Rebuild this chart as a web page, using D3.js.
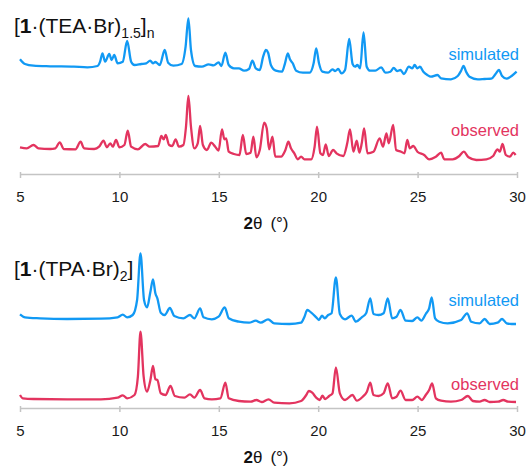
<!DOCTYPE html>
<html>
<head>
<meta charset="utf-8">
<script src="https://cdn.jsdelivr.net/npm/d3@7"></script>
<style>
  body { margin: 0; background: #fff; }
  svg { display: block; font-family: Helvetica, Arial, "Liberation Sans", sans-serif; }
  .axis path, .axis line { stroke: #c4c4c4; stroke-width: 1.5; }
  .axis text { fill: #1a1a1a; font-size: 15px; }
</style>
</head>
<body>
<svg id="chart" width="531" height="466"></svg>
<script>
"use strict";

//Tick values shared by both panels
var thetaTicks = [5, 10, 15, 20, 25, 30];

//[2theta, intensity], [1.(TEA.Br)1.5]n
var teaSimulated = [
  [5.00, 20.7], [5.25, 16.0], [5.68, 14.3], [6.52, 13.7], [7.71, 13.3], [8.39, 12.7], [8.90, 14.0],
  [9.03, 18.3], [9.15, 26.7], [9.28, 18.3], [9.49, 26.0], [9.61, 20.0], [9.74, 25.0], [9.91, 16.7],
  [10.17, 18.3], [10.39, 39.0], [10.59, 18.3], [10.76, 15.0], [11.10, 16.0], [11.35, 16.7], [11.55, 19.3],
  [11.69, 16.7], [11.81, 18.0], [12.03, 15.0], [12.28, 30.0], [12.45, 17.3], [12.71, 14.3], [13.13, 16.0],
  [13.33, 33.3], [13.47, 61.7], [13.60, 30.0], [13.81, 14.0], [14.15, 13.3], [14.49, 15.7], [14.74, 14.7],
  [14.99, 17.7], [15.13, 14.0], [15.33, 27.3], [15.50, 15.0], [15.76, 11.7], [16.01, 11.7], [16.27, 9.3],
  [16.52, 11.0], [16.69, 19.3], [16.86, 11.7], [17.06, 10.0], [17.23, 23.3], [17.37, 30.0], [17.48, 27.3],
  [17.62, 15.0], [17.87, 9.3], [18.18, 8.3], [18.33, 16.7], [18.47, 26.7], [18.58, 20.7], [18.72, 16.7],
  [18.89, 9.3], [19.23, 7.3], [19.57, 7.3], [19.77, 16.7], [19.90, 31.7], [20.04, 16.7], [20.21, 8.3],
  [20.50, 7.3], [20.72, 10.7], [20.85, 9.0], [21.01, 11.0], [21.17, 6.7], [21.35, 10.0], [21.56, 41.0],
  [21.73, 16.0], [21.85, 13.3], [21.97, 15.0], [22.11, 11.7], [22.28, 47.7], [22.44, 13.3], [22.61, 9.3],
  [22.87, 9.3], [23.17, 12.7], [23.38, 7.3], [23.63, 8.3], [23.80, 12.0], [23.97, 9.0], [24.14, 10.0],
  [24.31, 6.0], [24.56, 13.3], [24.73, 11.7], [24.85, 15.0], [24.99, 11.7], [25.12, 13.3], [25.29, 8.3],
  [25.49, 5.0], [25.67, 3.3], [26.00, 5.0], [26.18, 1.7], [26.68, 0.7], [27.02, 4.0], [27.19, 9.3],
  [27.31, 14.0], [27.44, 8.3], [27.61, 3.3], [28.03, 0.7], [28.37, 1.0], [28.71, 1.3], [28.92, 6.0],
  [29.09, 10.0], [29.25, 4.0], [29.48, 1.3], [29.73, 4.0], [29.98, 8.3]
];

var teaObserved = [
  [5.00, 13.7], [5.34, 12.7], [5.68, 16.0], [5.93, 12.7], [6.52, 12.0], [6.78, 12.7], [7.00, 18.7],
  [7.20, 12.0], [7.79, 11.7], [8.05, 19.3], [8.22, 12.7], [8.73, 12.0], [8.98, 14.3], [9.20, 20.3],
  [9.37, 13.7], [9.54, 17.7], [9.67, 14.3], [9.83, 21.0], [10.00, 13.7], [10.25, 16.0], [10.42, 30.3],
  [10.59, 14.3], [10.93, 11.7], [11.30, 17.0], [11.52, 14.3], [11.95, 15.0], [12.11, 25.0], [12.23, 21.7],
  [12.33, 26.0], [12.50, 16.0], [12.66, 15.0], [12.83, 21.7], [12.99, 14.3], [13.22, 16.0], [13.35, 34.3],
  [13.47, 65.0], [13.60, 34.3], [13.77, 12.7], [13.94, 17.7], [14.06, 35.0], [14.20, 16.0], [14.40, 11.0],
  [14.62, 18.3], [14.82, 14.3], [14.99, 10.3], [15.16, 31.7], [15.28, 21.7], [15.37, 22.7], [15.50, 9.3],
  [15.76, 7.0], [16.04, 6.0], [16.21, 26.0], [16.38, 7.0], [16.60, 8.3], [16.74, 24.3], [16.89, 3.7],
  [17.06, 11.0], [17.28, 38.3], [17.41, 32.7], [17.53, 11.7], [17.70, 24.3], [17.84, 4.3], [18.13, 4.3],
  [18.35, 11.0], [18.50, 19.3], [18.63, 12.7], [18.80, 7.7], [18.97, 1.7], [19.14, 4.3], [19.31, 1.7],
  [19.65, 1.7], [19.82, 14.3], [19.94, 34.3], [20.11, 7.7], [20.24, 6.0], [20.38, 16.7], [20.53, 5.0],
  [20.75, 11.0], [20.92, 7.7], [21.26, 5.0], [21.46, 17.7], [21.60, 31.7], [21.77, 9.3], [21.94, 20.3],
  [22.07, 8.3], [22.19, 17.7], [22.31, 32.7], [22.48, 7.7], [22.78, 9.3], [23.09, 22.7], [23.26, 14.3],
  [23.43, 27.7], [23.55, 17.7], [23.77, 36.0], [23.92, 11.0], [24.17, 9.3], [24.34, 7.7], [24.48, 21.0],
  [24.61, 12.7], [24.78, 15.0], [24.99, 9.3], [25.33, 6.0], [25.58, 1.7], [25.92, 4.3], [26.18, 8.3],
  [26.34, 1.7], [26.76, 1.7], [27.10, 5.0], [27.32, 9.3], [27.56, 3.7], [27.95, 1.0], [28.46, 1.7],
  [28.80, 5.0], [29.02, 11.7], [29.14, 9.3], [29.27, 17.0], [29.44, 6.0], [29.64, 4.3], [29.81, 8.3],
  [29.93, 6.0]
];

//[2theta, intensity], [1.(TPA.Br)2]
var tpaSimulated = [
  [5.00, 10.7], [5.25, 7.7], [6.02, 6.7], [7.37, 6.0], [9.07, 6.3], [9.91, 7.7], [10.17, 10.3],
  [10.39, 7.7], [10.67, 10.0], [10.89, 25.0], [11.06, 71.7], [11.24, 25.0], [11.39, 17.7], [11.56, 33.3],
  [11.69, 45.7], [11.81, 31.7], [11.91, 26.7], [12.08, 12.3], [12.28, 10.0], [12.54, 17.0], [12.76, 9.0],
  [13.22, 6.7], [13.55, 10.0], [13.77, 6.7], [14.06, 16.7], [14.23, 7.7], [14.65, 5.7], [14.99, 8.3],
  [15.30, 17.7], [15.50, 6.7], [16.01, 3.3], [16.52, 2.3], [16.86, 4.3], [17.11, 2.3], [17.48, 5.7],
  [17.79, 1.7], [18.55, 1.0], [19.14, 2.3], [19.31, 8.3], [19.45, 15.0], [19.65, 12.3], [19.90, 7.7],
  [20.04, 5.0], [20.19, 9.3], [20.33, 6.7], [20.50, 10.0], [20.67, 11.7], [20.89, 47.7], [21.09, 11.0],
  [21.35, 5.7], [21.68, 9.3], [21.90, 3.3], [22.19, 7.7], [22.41, 11.7], [22.62, 26.7], [22.78, 11.0],
  [23.04, 10.0], [23.29, 11.7], [23.50, 26.7], [23.72, 6.7], [23.94, 8.3], [24.14, 15.0], [24.40, 4.3],
  [24.73, 4.0], [24.99, 7.7], [25.19, 4.3], [25.41, 11.0], [25.58, 16.7], [25.71, 27.7], [25.88, 6.7],
  [26.09, 3.3], [26.51, 1.7], [27.19, 5.0], [27.49, 11.7], [27.70, 3.3], [28.12, 1.7], [28.37, 6.0],
  [28.63, 1.0], [29.02, 2.3], [29.25, 6.0], [29.48, 1.7], [29.73, 1.0], [29.95, 1.0]
];

var tpaObserved = [
  [5.00, 9.0], [5.14, 5.7], [5.68, 5.0], [7.37, 4.7], [9.07, 4.7], [9.91, 6.3], [10.17, 8.7],
  [10.39, 5.7], [10.76, 9.0], [10.93, 27.3], [11.06, 72.3], [11.22, 27.3], [11.39, 12.3], [11.56, 24.0],
  [11.69, 38.0], [11.81, 24.7], [11.91, 24.0], [12.08, 10.7], [12.32, 9.0], [12.57, 18.0], [12.79, 8.0],
  [13.27, 6.3], [13.55, 9.7], [13.77, 6.3], [14.06, 14.0], [14.28, 5.7], [14.65, 4.7], [15.08, 5.7],
  [15.33, 21.3], [15.50, 5.7], [16.01, 3.0], [16.60, 2.3], [16.89, 4.0], [17.16, 2.0], [17.50, 4.7],
  [17.79, 1.3], [18.55, 0.7], [19.14, 3.0], [19.40, 9.0], [19.53, 13.0], [19.70, 11.3], [19.90, 6.3],
  [20.08, 4.0], [20.21, 8.3], [20.35, 5.0], [20.55, 8.0], [20.72, 10.7], [20.89, 36.7], [21.09, 10.7],
  [21.35, 4.0], [21.72, 9.0], [21.94, 3.3], [22.24, 7.3], [22.45, 12.3], [22.62, 21.3], [22.78, 9.0],
  [23.04, 8.0], [23.29, 10.7], [23.50, 20.7], [23.72, 5.7], [23.94, 7.3], [24.14, 13.3], [24.40, 4.0],
  [24.73, 4.0], [24.99, 7.3], [25.21, 4.0], [25.41, 9.0], [25.58, 14.0], [25.73, 20.7], [25.92, 5.7],
  [26.18, 3.3], [26.68, 2.3], [27.19, 4.0], [27.53, 8.0], [27.78, 3.0], [28.12, 2.3], [28.37, 4.0],
  [28.63, 2.0], [29.05, 2.3], [29.31, 4.0], [29.56, 2.3], [29.95, 2.0]
];

var simColor = "#1199f4",
    obsColor = "#e3345f";

var svg = d3.select("#chart");

//Shared 2theta scale
var x = d3.scaleLinear().domain([5, 30]).range([20, 517]);

//Panel setup: axis position and stacking offsets in intensity units
var panels = [
  {axisY: 174, sim: teaSimulated, obs: teaObserved, simOffset: 94, obsOffset: 13,
   simLabelY: 60, obsLabelY: 136, titleY: 33, title: "tea"},
  {axisY: 408, sim: tpaSimulated, obs: tpaObserved, simOffset: 83, obsOffset: 4,
   simLabelY: 306, obsLabelY: 390, titleY: 276, title: "tpa"}
];

panels.forEach(function(p) {
  var y = d3.scaleLinear().domain([0, 170]).range([p.axisY, p.axisY - 170]);

  var line = function(offset) {
    return d3.line()
      .curve(d3.curveMonotoneX)
      .x(function(d) { return x(d[0]); })
      .y(function(d) { return y(d[1] + offset); });
  };

  svg.append("path")
    .attr("d", line(p.simOffset)(p.sim))
    .attr("fill", "none")
    .attr("stroke", simColor)
    .attr("stroke-width", 2.3)
    .attr("stroke-linejoin", "round");

  svg.append("path")
    .attr("d", line(p.obsOffset)(p.obs))
    .attr("fill", "none")
    .attr("stroke", obsColor)
    .attr("stroke-width", 2.3)
    .attr("stroke-linejoin", "round");

  //Axis
  var ax = svg.append("g")
    .attr("class", "axis")
    .attr("transform", "translate(0," + p.axisY + ")")
    .call(d3.axisBottom(x).tickValues(thetaTicks).tickSizeInner(4).tickSizeOuter(0).tickPadding(13));
  ax.selectAll(".tick line").attr("y1", -2);

  //Axis title
  var at = svg.append("text")
    .attr("x", 266)
    .attr("y", p.axisY + 55)
    .attr("text-anchor", "middle")
    .attr("font-size", 17)
    .attr("fill", "#111");
  at.append("tspan").attr("font-weight", "bold").text("2");
  at.append("tspan").text("θ");
  at.append("tspan").attr("dx", 8).text("(°)");

  //Series labels
  svg.append("text")
    .attr("x", 519).attr("y", p.simLabelY)
    .attr("text-anchor", "end")
    .attr("font-size", 16.5)
    .attr("fill", simColor)
    .text("simulated");
  svg.append("text")
    .attr("x", 519).attr("y", p.obsLabelY)
    .attr("text-anchor", "end")
    .attr("font-size", 16.5)
    .attr("fill", obsColor)
    .text("observed");

  //Compound titles
  var t = svg.append("text")
    .attr("x", 14).attr("y", p.titleY)
    .attr("font-size", 21)
    .attr("fill", "#111");
  t.append("tspan").text("[");
  t.append("tspan").attr("font-weight", "bold").text("1");
  if (p.title === "tea") {
    t.append("tspan").text("·(TEA·Br)");
    t.append("tspan").attr("font-size", 14).attr("dy", 5).text("1.5");
    t.append("tspan").attr("dy", -5).text("]");
    t.append("tspan").attr("font-size", 14).attr("dy", 5).text("n");
  } else {
    t.append("tspan").text("·(TPA·Br)");
    t.append("tspan").attr("font-size", 14).attr("dy", 5).text("2");
    t.append("tspan").attr("dy", -5).text("]");
  }
});
</script>
</body>
</html>
